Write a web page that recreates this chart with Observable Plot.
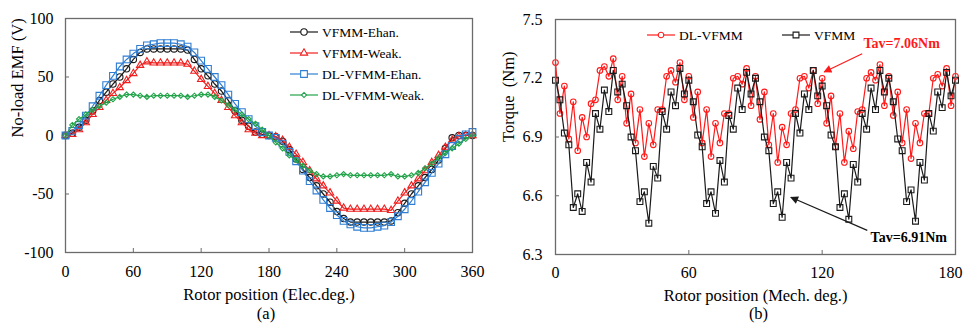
<!DOCTYPE html>
<html><head><meta charset="utf-8">
<script src="https://cdn.jsdelivr.net/npm/d3@7"></script>
<script src="https://cdn.jsdelivr.net/npm/@observablehq/plot@0.6"></script>
<style>
html,body{margin:0;padding:0;background:#fff;}
#wrap{position:relative;width:963px;height:326px;overflow:hidden;}
#wrap svg{position:absolute;top:0;}
</style></head>
<body><div id="wrap"></div>
<script>
// ---------- Panel (a): no-load EMF ----------
const emfAngle = [0,6,12,18,24,30,36,42,48,54,60,66,72,78,84,90,96,102,108,114,120,126,132,138,144,150,156,162,168,174,180,186,192,198,204,210,216,222,228,234,240,246,252,258,264,270,276,282,288,294,300,306,312,318,324,330,336,342,348,354,360];
const emfVfmmEhan = [0,2,7,13,21,30,37,44,50,57,65,71,74,74,74,74,74,74,73,65,57,51,44,38,30,21,13,8,3,1,0,-1,-5,-12,-20,-29,-36,-43,-50,-57,-65,-71,-74,-74,-74,-74,-74,-74,-73,-66,-58,-50,-43,-36,-29,-21,-11,-2,0,0,0];
const emfVfmmWeak = [0,1,5,11,18,24,30,36,41,47,53,60,63,62,62,62,62,62,61,55,48,42,36,30,24,17,11,5,2,0,0,-1,-4,-10,-16,-23,-30,-37,-43,-49,-56,-62,-63,-63,-63,-63,-63,-63,-64,-56,-49,-43,-37,-30,-23,-17,-10,-4,-1,0,0];
const emfDlEhan = [0,4,9,17,25,34,43,51,59,65,70,74,77,78,79,79,79,78,76,71,64,57,50,43,35,27,20,14,8,3,0,-2,-7,-14,-22,-30,-39,-47,-55,-62,-68,-73,-76,-78,-79,-79,-78,-77,-74,-69,-63,-56,-48,-40,-32,-24,-16,-9,-3,1,3];
const emfDlWeak = [0,9,14,18,22,25,28,31,33,35,35,34,33,34,34,34,34,34,33,34,35,35,33,30,26,22,18,14,10,5,0,-6,-11,-17,-21,-26,-30,-33,-35,-35,-34,-33,-34,-34,-34,-34,-34,-34,-33,-35,-35,-34,-32,-28,-24,-19,-15,-11,-7,-3,0];
const emfNames = ["VFMM-Ehan.","VFMM-Weak.","DL-VFMM-Ehan.","DL-VFMM-Weak."];
const emfXTicks = [0,60,120,180,240,300,360];
const emfYTicks = [-100,-50,0,50,100];
const emfXTitle = "Rotor position (Elec.deg.)";
const emfYTitle = "No-load EMF (V)";
const emfCaption = "(a)";

// ---------- Panel (b): torque ----------
const torqueAngle = [0,2,4,6,8,10,12,14,16,18,20,22,24,26,28,30,32,34,36,38,40,42,44,46,48,50,52,54,56,58,60,62,64,66,68,70,72,74,76,78,80,82,84,86,88,90,92,94,96,98,100,102,104,106,108,110,112,114,116,118,120,122,124,126,128,130,132,134,136,138,140,142,144,146,148,150,152,154,156,158,160,162,164,166,168,170,172,174,176,178,180];
const torqueDl = [7.28,7.02,7.16,6.89,7.08,6.83,7.00,6.90,7.07,7.09,7.24,7.26,7.21,7.30,7.09,7.21,
  6.97,7.12,6.87,7.04,6.80,6.97,6.86,7.04,7.04,7.21,7.24,7.18,7.28,7.09,7.21,
  7.00,7.13,6.87,7.04,6.80,6.97,6.87,7.02,7.02,7.20,7.21,7.17,7.25,7.06,7.21,
  6.99,7.13,6.86,7.02,6.77,6.95,6.86,7.02,7.04,7.20,7.21,7.15,7.24,7.07,7.20,
  6.97,7.11,6.85,7.02,6.77,6.93,6.84,7.03,7.04,7.20,7.23,7.19,7.27,7.06,7.21,
  7.01,7.13,6.87,7.04,6.79,6.97,6.87,7.02,7.02,7.20,7.22,7.16,7.25,7.06,7.21];
const torqueVfmm = [7.19,7.09,6.92,6.86,6.54,6.61,6.52,6.77,6.67,7.02,6.94,7.14,7.03,7.24,7.13,7.17,
  7.06,6.90,6.83,6.57,6.62,6.46,6.75,6.69,7.03,6.94,7.13,7.06,7.25,7.12,7.19,
  7.08,6.91,6.85,6.56,6.62,6.51,6.78,6.67,7.01,6.94,7.15,7.04,7.23,7.12,7.20,
  7.08,6.90,6.83,6.56,6.62,6.49,6.77,6.69,7.02,6.92,7.12,7.04,7.24,7.11,7.16,
  7.06,6.91,6.85,6.54,6.61,6.48,6.76,6.67,7.02,6.94,7.15,7.04,7.24,7.13,7.20,
  7.08,6.89,6.83,6.57,6.63,6.47,6.77,6.68,7.02,6.93,7.13,7.05,7.23,7.11,7.19];
const torqueNames = ["DL-VFMM","VFMM"];
const torqueXTicks = [0,60,120,180];
const torqueYTicks = [6.3,6.6,6.9,7.2,7.5];
const torqueYTickLabels = ["6.3","6.6","6.9","7.2","7.5"];
const torqueXTitle = "Rotor position (Mech. deg.)";
const torqueYTitle = "Torque\u00a0 (Nm)";
const torqueCaption = "(b)";
const avgLabels = ["Tav=7.06Nm","Tav=6.91Nm"];
// annotation anchors in data units: [textX, textY, arrowFromX, arrowFromY, arrowToX, arrowToY]
const avgAnnot = [[138.6,7.377,138.0,7.325,120.9,7.232],[141.8,6.387,140.3,6.423,105.9,6.592]];

// ---------- styles ----------
const FONT = "'Liberation Serif','Times New Roman',serif";
const FRAME = "#6b6b6b";
const emfColors = ["#1a1a1a","#f01e1e","#2f7ed3","#22a34a"];
const emfSymbols = ["circle","triangle","square","diamond2"];
const emfD3Sym = [d3.symbolCircle, d3.symbolTriangle, d3.symbolSquare, d3.symbolDiamond2 || d3.symbolDiamond];
const emfR = [3.2,2.7,3.8,2.3];
const torqueColors = ["#ff1a1a","#1a1a1a"];
const torqueSymbols = ["circle","square"];
const torqueD3Sym = [d3.symbolCircle, d3.symbolSquare];
const torqueR = [2.8,3.3];

const wrap = document.getElementById("wrap");

function seriesMarks(xs, ys, color, symbol, r) {
  const rows = xs.map((x, i) => ({x, y: ys[i]}));
  return [
    Plot.line(rows, {x: "x", y: "y", stroke: color, strokeWidth: 1.2}),
    Plot.dot(rows, {x: "x", y: "y", stroke: color, symbol, r, fill: "none", strokeWidth: 1.1})
  ];
}

function addLegend(svg, items, fontSize) {
  const g = d3.select(svg).append("g").attr("font-family", FONT).attr("font-size", fontSize)
    .attr("fill", "#000").attr("text-anchor", "start");
  items.forEach(it => {
    g.append("line").attr("x1", it.x0).attr("x2", it.x1).attr("y1", it.y).attr("y2", it.y)
      .attr("stroke", it.color).attr("stroke-width", 1.2);
    g.append("path").attr("d", d3.symbol().type(it.sym).size(Math.PI * it.r * it.r)())
      .attr("transform", `translate(${(it.x0 + it.x1) / 2},${it.y})`)
      .attr("fill", "white").attr("stroke", it.color).attr("stroke-width", 1.1);
    g.append("text").attr("x", it.x1 + 4).attr("y", it.y).attr("dy", "0.35em")
      .attr("text-anchor", "start").text(it.label);
  });
}

// ---------- plot (a) ----------
const aW = 480, aH = 326, aML = 65, aMR = 8, aMT = 18, aMB = 74;
const emfValues = [emfVfmmEhan, emfVfmmWeak, emfDlEhan, emfDlWeak];
const plotA = Plot.plot({
  width: aW, height: aH,
  marginLeft: aML, marginRight: aMR, marginTop: aMT, marginBottom: aMB,
  style: {fontFamily: FONT, color: "#000", background: "transparent", overflow: "visible"},
  x: {domain: [0, 360], axis: null},
  y: {domain: [-100, 100], axis: null},
  marks: [
    Plot.tickY(emfYTicks, {y: d => d, insetRight: aW - aML - aMR - 4, stroke: FRAME}),
    Plot.tickX(emfXTicks, {x: d => d, insetTop: aH - aMT - aMB - 4, stroke: FRAME}),
    ...emfValues.flatMap((v, k) => seriesMarks(emfAngle, v, emfColors[k], emfSymbols[k], emfR[k])),
    Plot.frame({stroke: FRAME, strokeWidth: 1.3}),
    Plot.text(emfYTicks, {y: d => d, text: d => String(d), frameAnchor: "left", textAnchor: "end", dx: -12, fontSize: 16}),
    Plot.text(emfXTicks, {x: d => d, text: d => String(d), frameAnchor: "bottom", lineAnchor: "middle", dy: 19, fontSize: 16}),
    Plot.text([emfXTitle], {text: d => d, frameAnchor: "bottom", lineAnchor: "middle", dy: 42, fontSize: 16.5}),
    Plot.text([emfCaption], {text: d => d, frameAnchor: "bottom", lineAnchor: "middle", dy: 61, dx: -3, fontSize: 16.5}),
    Plot.text([emfYTitle], {text: d => d, frameAnchor: "left", rotate: -90, dx: -48, dy: 2, fontSize: 16.5})
  ]
});
plotA.style.left = "0px";
wrap.appendChild(plotA);
addLegend(plotA, emfNames.map((label, k) => ({label, x0: 290, x1: 318, y: 32 + 21 * k, color: emfColors[k], sym: emfD3Sym[k], r: emfR[k]})), 13.5);

// ---------- plot (b) ----------
const bW = 483, bH = 326, bML = 75, bMR = 8, bMT = 19, bMB = 72;
const torqueValues = [torqueDl, torqueVfmm];
const lastTick = torqueXTicks[torqueXTicks.length - 1];
const plotB = Plot.plot({
  width: bW, height: bH,
  marginLeft: bML, marginRight: bMR, marginTop: bMT, marginBottom: bMB,
  style: {fontFamily: FONT, color: "#000", background: "transparent", overflow: "visible"},
  x: {domain: [0, 180], axis: null},
  y: {domain: [6.3, 7.5], axis: null},
  marks: [
    Plot.tickY(torqueYTicks, {y: d => d, insetRight: bW - bML - bMR - 4, stroke: FRAME}),
    Plot.tickX(torqueXTicks, {x: d => d, insetTop: bH - bMT - bMB - 4, stroke: FRAME}),
    ...torqueValues.flatMap((v, k) => seriesMarks(torqueAngle, v, torqueColors[k], torqueSymbols[k], torqueR[k])),
    Plot.frame({stroke: FRAME, strokeWidth: 1.3}),
    Plot.link([avgAnnot[0]], {x1: d => d[2], y1: d => d[3], x2: d => d[4], y2: d => d[5], stroke: "#ff1a1a", strokeWidth: 1.2}),
    Plot.link([avgAnnot[1]], {x1: d => d[2], y1: d => d[3], x2: d => d[4], y2: d => d[5], stroke: "#1a1a1a", strokeWidth: 1.2}),
    Plot.text([avgLabels[0]], {x: () => avgAnnot[0][0], y: () => avgAnnot[0][1], text: d => d, textAnchor: "start", fill: "#ff1a1a", fontWeight: "bold", fontSize: 14}),
    Plot.text([avgLabels[1]], {x: () => avgAnnot[1][0], y: () => avgAnnot[1][1], text: d => d, textAnchor: "start", fill: "#000", fontWeight: "bold", fontSize: 14}),
    Plot.text(torqueYTicks, {y: d => d, text: (d, i) => torqueYTickLabels[i], frameAnchor: "left", textAnchor: "end", dx: -13, fontSize: 16}),
    Plot.text(torqueXTicks.filter(d => d !== lastTick), {x: d => d, text: d => String(d), frameAnchor: "bottom", lineAnchor: "middle", dy: 18, fontSize: 16}),
    Plot.text([lastTick], {x: d => d, text: d => String(d), frameAnchor: "bottom", lineAnchor: "middle", textAnchor: "end", dx: 7, dy: 18, fontSize: 16}),
    Plot.text([torqueXTitle], {text: d => d, frameAnchor: "bottom", lineAnchor: "middle", dy: 41, fontSize: 16.5}),
    Plot.text([torqueCaption], {text: d => d, frameAnchor: "bottom", lineAnchor: "middle", dy: 59, dx: 3, fontSize: 16.5}),
    Plot.text([torqueYTitle], {text: d => d, frameAnchor: "left", rotate: -90, dx: -47, dy: 5, fontSize: 16.5})
  ]
});
plotB.style.left = "480px";
wrap.appendChild(plotB);
addLegend(plotB, [
  {label: torqueNames[0], x0: 167, x1: 195, y: 35, color: torqueColors[0], sym: torqueD3Sym[0], r: torqueR[0]},
  {label: torqueNames[1], x0: 302, x1: 330, y: 35, color: torqueColors[1], sym: torqueD3Sym[1], r: torqueR[1]}
], 13.5);

// filled arrowheads on the annotation links
const defs = d3.select(plotB).append("defs");
[["ahRed", "#ff1a1a"], ["ahBlack", "#1a1a1a"]].forEach(([id, c]) => {
  defs.append("marker").attr("id", id).attr("viewBox", "0 0 10 10").attr("refX", 9).attr("refY", 5)
    .attr("markerWidth", 9).attr("markerHeight", 8).attr("markerUnits", "userSpaceOnUse").attr("orient", "auto")
    .append("path").attr("d", "M0,0L10,5L0,10z").attr("fill", c);
});
const linkGroups = d3.select(plotB).selectAll('g[aria-label="link"]').nodes();
linkGroups.forEach((g, i) => {
  d3.select(g).selectAll("path").attr("marker-end", `url(#${i === 0 ? "ahRed" : "ahBlack"})`);
});
</script>
</body></html>
